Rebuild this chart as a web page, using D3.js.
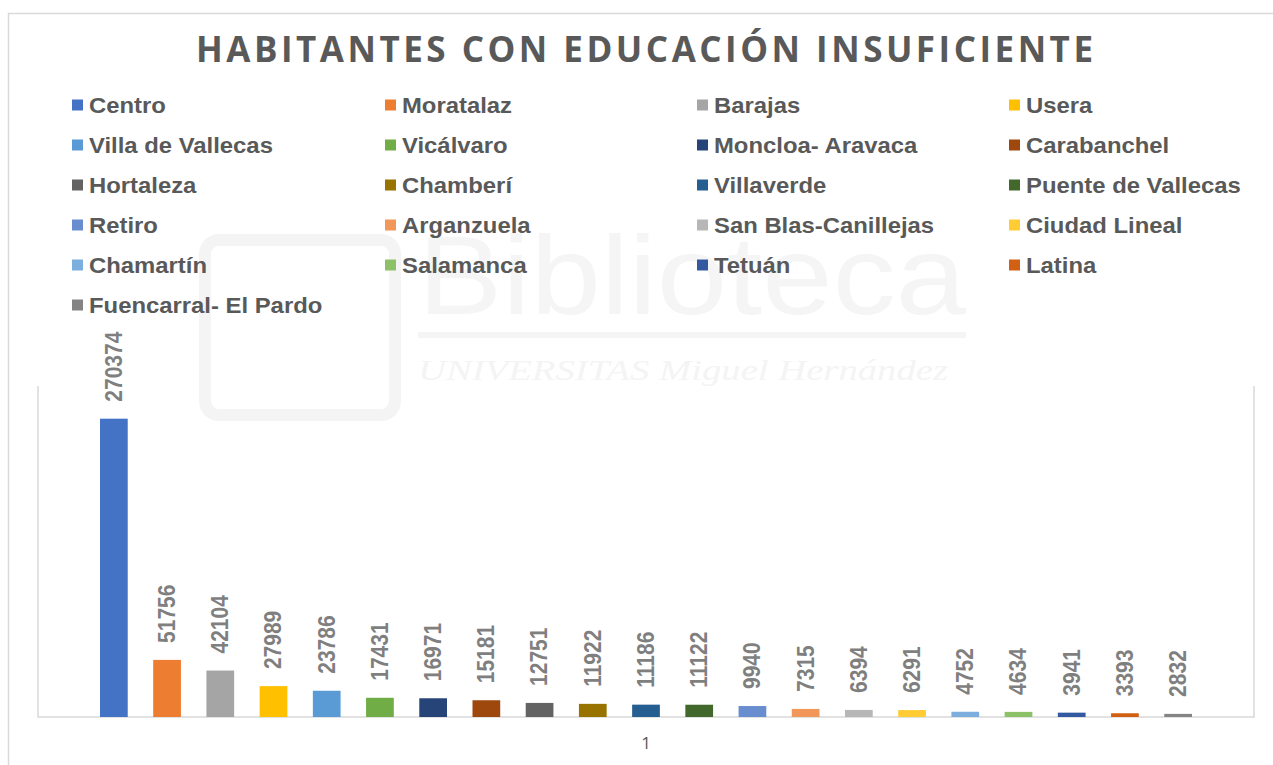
<!DOCTYPE html>
<html>
<head>
<meta charset="utf-8">
<script src="https://cdn.jsdelivr.net/npm/d3@7"></script>
<style>
  html, body { margin: 0; padding: 0; background: #ffffff; }
  svg { display: block; }
</style>
</head>
<body>
<svg id="chart" width="1273" height="765"></svg>
<script>
// ---- Data ----
const categories = ["Centro", "Moratalaz", "Barajas", "Usera", "Villa de Vallecas", "Vicálvaro",
  "Moncloa- Aravaca", "Carabanchel", "Hortaleza", "Chamberí", "Villaverde", "Puente de Vallecas",
  "Retiro", "Arganzuela", "San Blas-Canillejas", "Ciudad Lineal", "Chamartín", "Salamanca",
  "Tetuán", "Latina", "Fuencarral- El Pardo"];
const values = [270374, 51756, 42104, 27989, 23786, 17431, 16971, 15181, 12751, 11922, 11186,
  11122, 9940, 7315, 6394, 6291, 4752, 4634, 3941, 3393, 2832];
const colors = ["#4472C4", "#ED7D31", "#A5A5A5", "#FFC000", "#5B9BD5", "#70AD47", "#264478",
  "#9E480E", "#636363", "#997300", "#255E91", "#43682B", "#698ED0", "#F1975A", "#B7B7B7",
  "#FFCD33", "#7CAFDD", "#8CC168", "#335AA1", "#D26012", "#848484"];
const xTickLabels = ["1"];
const title = "HABITANTES CON EDUCACIÓN INSUFICIENTE";

const svg = d3.select("#chart");

// ---- Chart frame ----
svg.append("rect").attr("x", 8.5).attr("y", 13.5).attr("width", 1400).attr("height", 900)
  .attr("fill", "#ffffff").attr("stroke", "#d9d9d9").attr("stroke-width", 1.5);

// ---- Faint watermark ----
const wm = svg.append("g").attr("class", "watermark");
wm.append("rect").attr("x", 205).attr("y", 240).attr("width", 190).attr("height", 175)
  .attr("rx", 14).attr("fill", "none").attr("stroke", "#f4f4f4").attr("stroke-width", 12);
wm.append("text").attr("x", 418).attr("y", 314)
  .attr("font-family", "Liberation Sans, Arial, sans-serif").attr("font-size", 112)
  .attr("fill", "#f5f5f5").attr("textLength", 548).attr("lengthAdjust", "spacingAndGlyphs")
  .text("Biblioteca");
wm.append("rect").attr("x", 418).attr("y", 332).attr("width", 548).attr("height", 6).attr("fill", "#f5f5f5");
wm.append("text").attr("x", 418).attr("y", 380)
  .attr("font-family", "Liberation Serif, serif").attr("font-size", 30).attr("font-style", "italic")
  .attr("fill", "#f4f4f4").attr("textLength", 530).attr("lengthAdjust", "spacingAndGlyphs")
  .text("UNIVERSITAS Miguel Hernández");

// ---- Title ----
svg.append("text")
  .attr("x", 644.5).attr("y", 62)
  .attr("text-anchor", "middle")
  .attr("font-family", "Open Sans, sans-serif")
  .attr("font-weight", "bold")
  .attr("font-size", 35)
  .attr("fill", "#595959")
  .attr("textLength", 897).attr("lengthAdjust", "spacing")
  .text(title);

// ---- Legend ----
const legendCols = [72, 385, 697, 1009];
const legendRowY = 105, legendRowStep = 40;
const legend = svg.append("g").attr("class", "legend");
categories.forEach((c, i) => {
  const col = i % 4, row = Math.floor(i / 4);
  const g = legend.append("g")
    .attr("transform", `translate(${legendCols[col]},${legendRowY + row * legendRowStep})`);
  g.append("rect").attr("x", 0).attr("y", -5.5).attr("width", 11).attr("height", 11).attr("fill", colors[i]);
  g.append("text")
    .attr("transform", "translate(17,0) scale(1.11,1)")
    .attr("dominant-baseline", "central")
    .attr("font-family", "Liberation Sans, Arial, sans-serif")
    .attr("font-weight", "bold")
    .attr("font-size", 21.5)
    .attr("fill", "#595959")
    .text(c);
});

// ---- Scales ----
const plot = { left: 38, right: 1254, top: 386, bottom: 717 };
const x = d3.scaleBand().domain(categories).range([plot.left, plot.right])
  .paddingInner(0.479).paddingOuter(1.165);
const y = d3.scaleLinear().domain([0, 300000]).range([plot.bottom, plot.top]);

// ---- Plot area border (left, bottom, right) ----
svg.append("path")
  .attr("d", `M${plot.left},${plot.top}V${plot.bottom}H${plot.right}V${plot.top}`)
  .attr("fill", "none").attr("stroke", "#d9d9d9").attr("stroke-width", 1.5);

// ---- Bars ----
svg.append("g").selectAll("rect").data(values).join("rect")
  .attr("x", (d, i) => x(categories[i]))
  .attr("y", d => y(d))
  .attr("width", x.bandwidth())
  .attr("height", d => y(0) - y(d))
  .attr("fill", (d, i) => colors[i]);

// ---- Data labels ----
svg.append("g").selectAll("text").data(values).join("text")
  .attr("transform", (d, i) => `translate(${x(categories[i]) + x.bandwidth() / 2},${y(d) - 17}) scale(1.11,1) rotate(-90)`)
  .attr("dominant-baseline", "central")
  .attr("text-anchor", "start")
  .attr("font-family", "Liberation Sans, Arial, sans-serif")
  .attr("font-weight", "bold")
  .attr("font-size", 21)
  .attr("fill", "#7f7f7f")
  .text(d => d);

// ---- X axis category label ----
const xGroup = d3.scaleBand().domain(xTickLabels).range([plot.left, plot.right]);
const xAxis = svg.append("g").attr("transform", `translate(0,${plot.bottom})`)
  .call(d3.axisBottom(xGroup).tickSize(0).tickPadding(20));
xAxis.select(".domain").remove();
xAxis.selectAll("text")
  .attr("font-family", "Open Sans, sans-serif")
  .attr("font-size", 17)
  .attr("fill", "#595959");
</script>
</body>
</html>
